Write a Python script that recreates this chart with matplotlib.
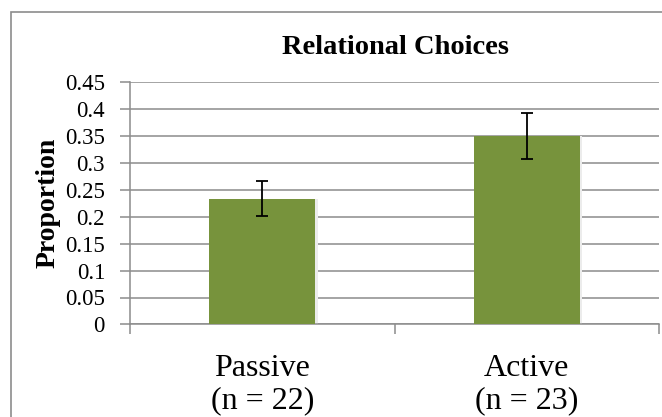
import matplotlib
matplotlib.use("Agg")
import matplotlib.pyplot as plt
import matplotlib.patches as mpatches
import numpy as np

# data
groups = ["Passive\n(n = 22)", "Active\n(n = 23)"]
proportion = [0.234, 0.350]
err = [0.032, 0.043]
yticks = [0, 0.05, 0.1, 0.15, 0.2, 0.25, 0.3, 0.35, 0.4, 0.45]
ytick_labels = ["0", "0.05", "0.1", "0.15", "0.2", "0.25", "0.3", "0.35", "0.4", "0.45"]

plt.rcParams['font.family'] = 'serif'
plt.rcParams['font.serif'] = ['Liberation Serif', 'Times New Roman', 'DejaVu Serif']

fig = plt.figure(figsize=(6.62, 4.17), dpi=100)
# outer chart-area border (runs off right/bottom like the screenshot)
fig.patches.append(mpatches.Rectangle((11/662, -0.1), 1.2, 1 - 12/417 + 0.1,
                                      transform=fig.transFigure, fill=False,
                                      edgecolor='#8c8c8c', lw=1.2))

ax = fig.add_axes([130/662, 1 - 324.4/417, 529/662, (324.4 - 82.3)/417])

x = np.arange(len(groups))
ax.bar(x + 0.01, proportion, width=0.4, color='#ececec', zorder=2)  # faint shadow
ax.bar(x, proportion, width=0.4, color='#77933C', zorder=3)
ax.errorbar(x, proportion, yerr=err, fmt='none', ecolor='black',
            elinewidth=1.3, capsize=4, capthick=1.3, zorder=4)

ax.set_xlim(-0.5, 1.5)
ax.set_ylim(0, 0.45)
ax.set_yticks(yticks)
ax.set_yticklabels(ytick_labels, fontsize=16.5)
ax.yaxis.grid(True, color='#8c8c8c', lw=1.1, zorder=0)
ax.set_axisbelow(True)

# category labels between boundary ticks
ax.set_xticks([-0.5, 0.5, 1.5])
ax.set_xticklabels([])
ax.set_xticks(x, minor=True)
ax.set_xticklabels(groups, minor=True, fontsize=23, linespacing=1.15)
ax.tick_params(axis='x', which='minor', length=0, pad=21)
ax.tick_params(axis='x', which='major', length=7, color='#8c8c8c', width=1.1)
ax.tick_params(axis='y', length=7, color='#8c8c8c', width=1.1, pad=11)

for s in ['top', 'right']:
    ax.spines[s].set_visible(False)
for s in ['left', 'bottom']:
    ax.spines[s].set_color('#8c8c8c')
    ax.spines[s].set_linewidth(1.1)

ax.set_ylabel("Proportion", fontsize=20, fontweight='bold', labelpad=3)
fig.text(395/662, 1 - 48/417, "Relational Choices", fontsize=20.5,
         fontweight='bold', ha='center', va='center')

fig.savefig("out.png", dpi=100)
